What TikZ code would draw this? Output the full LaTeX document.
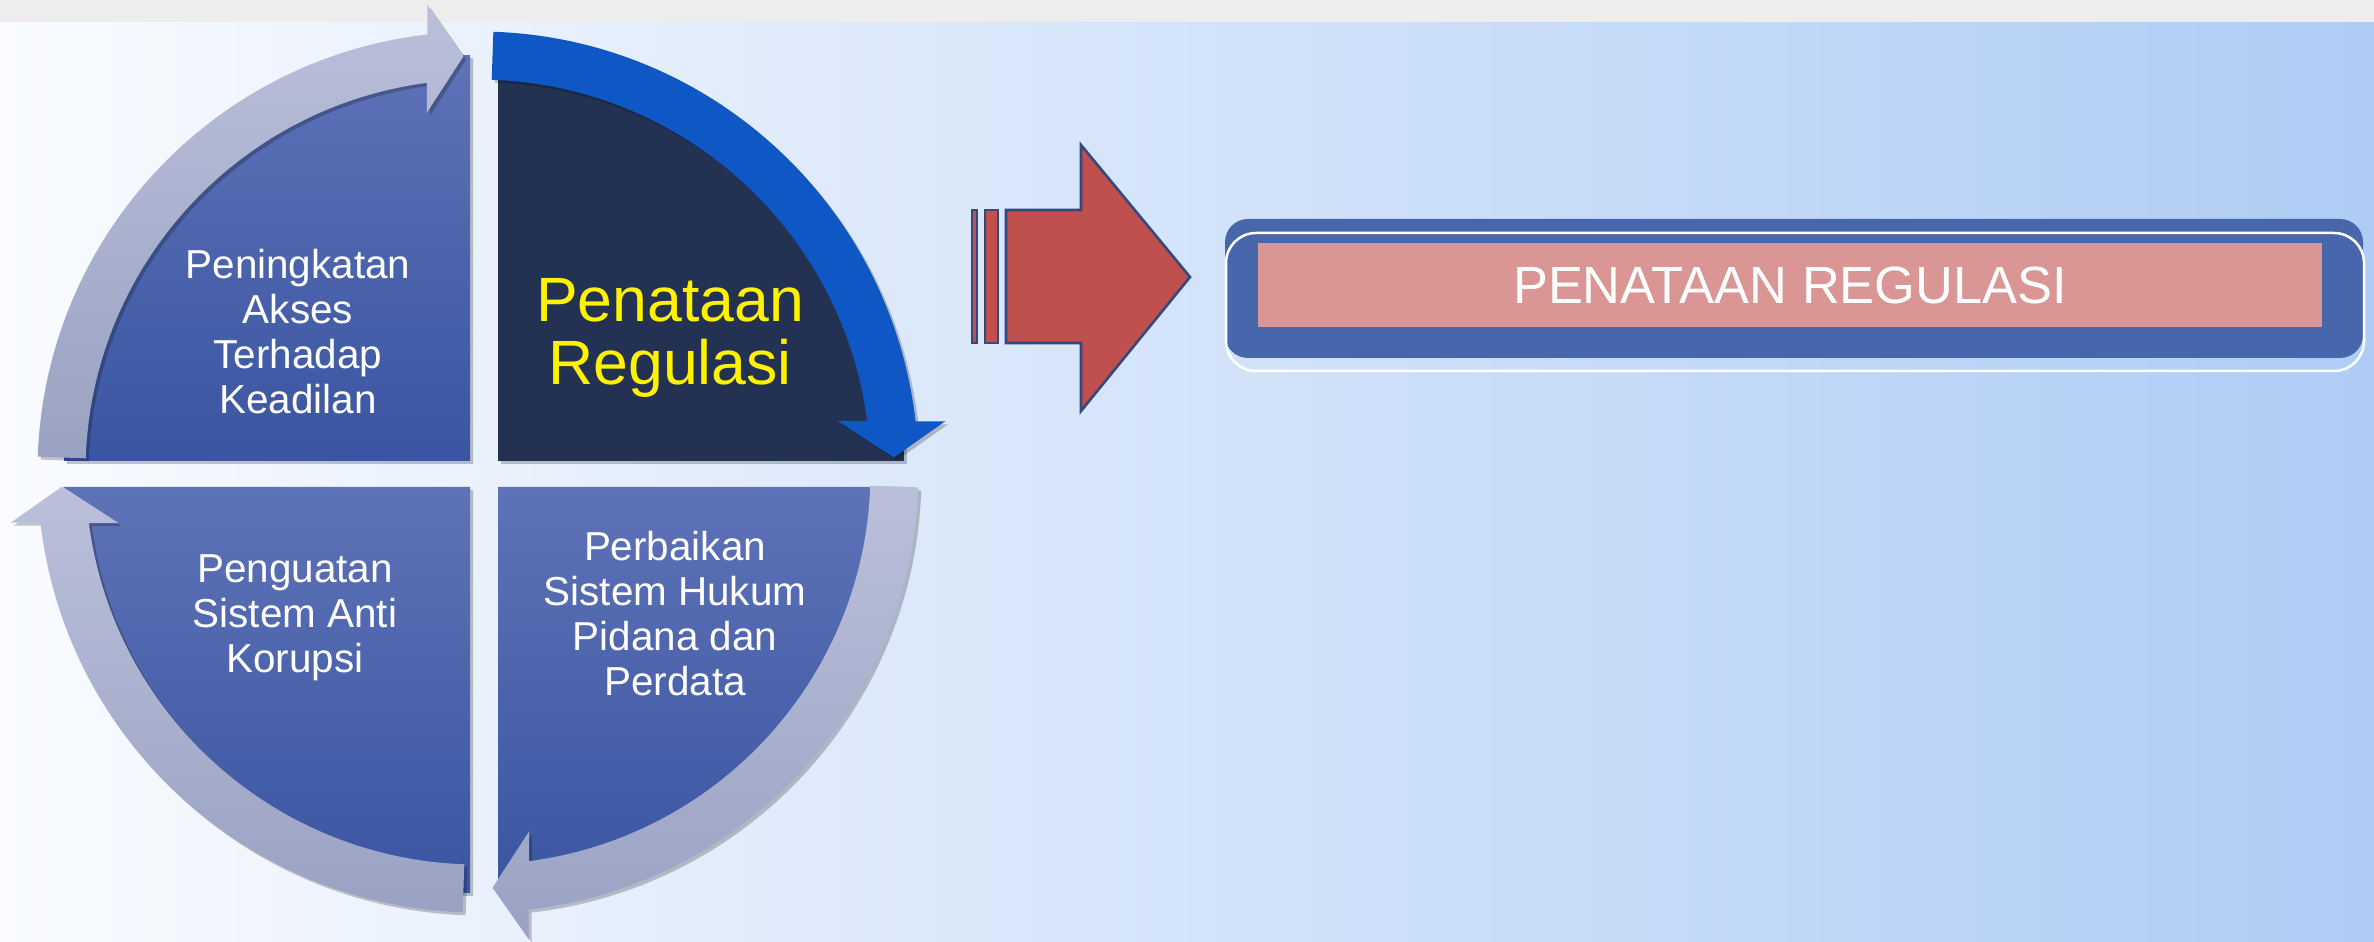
\documentclass[tikz,border=0pt]{standalone}
\usepackage{fontspec}
\setmainfont{Liberation Sans}
\usetikzlibrary{shadows}
\definecolor{topband}{HTML}{EDEDED}
\definecolor{bgleft}{HTML}{F9FBFE}
\definecolor{bgright}{HTML}{AECCF5}
\definecolor{slicetop}{HTML}{5E72B7}
\definecolor{slicebot}{HTML}{3A55A2}
\definecolor{slicedark}{HTML}{233153}
\definecolor{ringtop}{HTML}{BAC0DA}
\definecolor{ringbot}{HTML}{9AA2C3}
\definecolor{ringblue}{HTML}{0E57C4}
\definecolor{arrowred}{HTML}{C0504D}
\definecolor{arrowedge}{HTML}{34497F}
\definecolor{boxblue}{HTML}{4866AC}
\definecolor{boxpink}{HTML}{D99694}
\tikzset{
  soft/.style={drop shadow={shadow xshift=0.03cm, shadow yshift=-0.03cm,
      fill=black, opacity=0.22}},
  slice/.style={soft, top color=slicetop, bottom color=slicebot},
  ring/.style={soft, top color=ringtop, bottom color=ringbot},
  ringsel/.style={soft, fill=ringblue},
  quadtext/.style={text=white, align=center, inner sep=0pt,
    font=\fontsize{11.5pt}{12.8pt}\selectfont}
}
\begin{document}
\begin{tikzpicture}
  \useasboundingbox (0,0) rectangle (23.74,-9.42);
  \fill[topband] (0,0) rectangle (23.74,-0.23);
  \shade[left color=bgleft, right color=bgright] (0,-0.23) rectangle (23.74,-9.42);

  \coordinate (C) at (4.78,-4.72);
  \coordinate (tl) at (4.70,-4.61);
  \coordinate (tr) at (4.98,-4.61);
  \coordinate (bl) at (4.70,-4.87);
  \coordinate (br) at (4.98,-4.87);

  \path[slice] (tl) -- ++(-4.06,0) arc[start angle=180, end angle=90, radius=4.06] -- cycle;
  \path[slice, top color=slicedark, bottom color=slicedark] (tr) -- ++(0,4.06)
    arc[start angle=90, end angle=0, radius=4.06] -- cycle;
  \path[slice] (bl) -- ++(-4.06,0) arc[start angle=180, end angle=270, radius=4.06] -- cycle;
  \path[slice] (br) -- ++(4.06,0) arc[start angle=0, end angle=-90, radius=4.06] -- cycle;

  \begin{scope}[shift={(C)}]
    \foreach \a/\sty in {180/ring, 90/ringsel, 0/ring, -90/ring}
      \path[\sty] (\a-2:4.405) arc[start angle=\a-2, end angle=\a-83.4, radius=4.405]
        -- (\a-83.8:4.70) -- (\a-88:4.16) -- (\a-81.9:3.63) -- (\a-82.5:3.925)
        arc[start angle=\a-82.5, end angle=\a-2, radius=3.925] -- cycle;
  \end{scope}

  \node[quadtext] (akses) at (2.98,-3.32) {Peningkatan\\Akses\\Terhadap\\Keadilan};
  \node[quadtext, text=yellow, font=\fontsize{17.8pt}{18pt}\selectfont] (regulasi)
    at (6.70,-3.38) {Penataan\\Regulasi};
  \node[quadtext] (korupsi) at (2.95,-6.18) {Penguatan\\Sistem Anti\\Korupsi};
  \node[quadtext] (hukum) at (6.75,-6.14) {Perbaikan\\Sistem Hukum\\Pidana dan\\Perdata};

  \begin{scope}[draw=arrowedge, fill=arrowred, line width=0.75pt]
    \filldraw (9.72,-2.10) rectangle (9.77,-3.43);
    \filldraw (9.85,-2.10) rectangle (9.98,-3.43);
    \filldraw (10.06,-2.10) -- (10.81,-2.10) -- (10.81,-1.45) -- (11.90,-2.77)
      -- (10.81,-4.11) -- (10.81,-3.43) -- (10.06,-3.43) -- cycle;
  \end{scope}

  \node[fill=boxblue, rounded corners=0.23cm, minimum width=11.38cm,
    minimum height=1.39cm, inner sep=0pt] (regframe) at (17.94,-2.885) {};
  \node[draw=white, line width=0.025cm, rounded corners=0.3cm, minimum width=11.38cm,
    minimum height=1.38cm, inner sep=0pt] (regline) at (17.95,-3.02) {};
  \node[fill=boxpink, text=white, minimum width=10.64cm, minimum height=0.84cm,
    inner sep=0pt, font=\fontsize{14.9pt}{16pt}\selectfont] (regtitle)
    at (17.90,-2.85) {PENATAAN REGULASI};
\end{tikzpicture}
\end{document}
